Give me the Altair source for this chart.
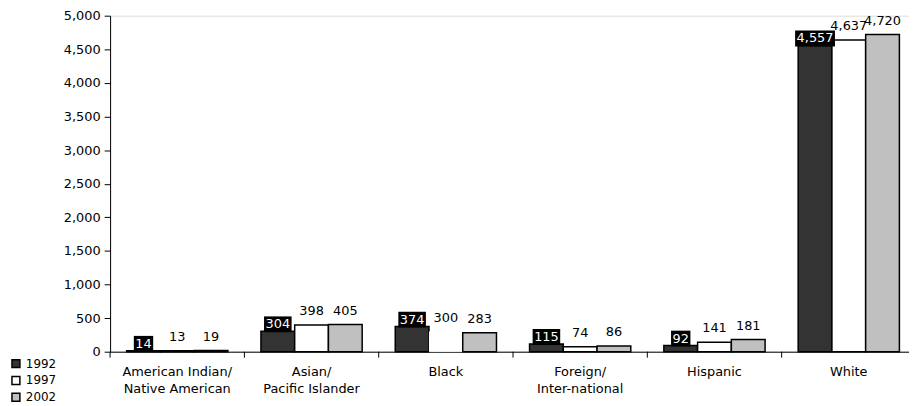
import altair as alt
import pandas as pd

categories = ["American Indian/\nNative American", "Asian/\nPacific Islander", "Black",
              "Foreign/\nInter-national", "Hispanic", "White"]
years = ["1992", "1997", "2002"]
v1992 = [14, 304, 374, 115, 92, 4557]
v1997 = [13, 398, 300, 74, 141, 4637]
v2002 = [19, 405, 283, 86, 181, 4720]
y_ticks = [0, 500, 1000, 1500, 2000, 2500, 3000, 3500, 4000, 4500, 5000]
fills = ["#333333", "#ffffff", "#c0c0c0"]

FONT = "DejaVu Sans"
FS = 13

rows = []
for yr, vals in zip(years, [v1992, v1997, v2002]):
    for c, v in zip(categories, vals):
        lab = f"{v:,}"
        bw = 0.636 * FS * sum(ch.isdigit() for ch in lab) + 0.318 * FS * lab.count(",") + 3
        rows.append({"category": c, "year": yr, "value": v, "label": lab, "bw": bw})
df = pd.DataFrame(rows)
cat_df = pd.DataFrame({"category": categories})

x_enc = alt.X("category:N", sort=categories,
              scale=alt.Scale(range=[0, 813], paddingInner=0, paddingOuter=0),
              axis=alt.Axis(title=None, ticks=False, labelExpr="split(datum.label, '\\n')",
                            labelFont=FONT, labelFontSize=FS, labelColor="black",
                            labelPadding=14, labelLineHeight=17, labelAngle=0,
                            domainColor="black", domainWidth=1))
xo_enc = alt.XOffset("year:N", sort=years, scale=alt.Scale(paddingOuter=0.49, paddingInner=0))
y_enc = alt.Y("value:Q", scale=alt.Scale(domain=[0, 5000], nice=False),
              axis=alt.Axis(title=None, values=y_ticks, format=",d", grid=False,
                            labelFont=FONT, labelFontSize=FS, labelColor="black",
                            tickSize=6, tickColor="black", labelPadding=4,
                            domainColor="black", domainWidth=1))

base = alt.Chart(df).encode(x=x_enc, xOffset=xo_enc, y=y_enc)

bars = base.mark_bar(stroke="black", strokeWidth=1.5).encode(
    color=alt.Color("year:N", scale=alt.Scale(domain=years, range=fills),
                    legend=alt.Legend(title=None, orient="none", legendX=-101, legendY=345,
                                      symbolType="square", symbolSize=64,
                                      symbolStrokeColor="black", symbolStrokeWidth=1.5,
                                      labelFont=FONT, labelFontSize=12, labelColor="black",
                                      labelOffset=4, rowPadding=3, padding=0)),
    strokeOpacity=alt.condition("datum.category == 'Black' && datum.year == '1997'",
                                alt.value(0), alt.value(1)),
)

boxes = base.transform_filter("datum.year == '1992'").mark_tick(
    color="black", thickness=16, orient="horizontal", yOffset=-7, opacity=1
).encode(size=alt.Size("bw:Q", scale=None, legend=None))

text92 = base.transform_filter("datum.year == '1992'").mark_text(
    font=FONT, fontSize=FS, color="white", baseline="middle", dy=-7
).encode(text="label:N")

text_other = base.transform_filter("datum.year != '1992'").mark_text(
    font=FONT, fontSize=FS, color="black", baseline="alphabetic", dy=-10
).encode(text="label:N")

xticks = alt.Chart(cat_df).mark_rule(color="black", strokeWidth=1).encode(
    x=alt.X("category:N", sort=categories, bandPosition=0),
    y=alt.value(339), y2=alt.value(345))

chart = alt.layer(bars, boxes, text92, text_other, xticks).properties(
    width=806, height=339,
    autosize=alt.AutoSizeParams(type="none"),
    padding={"left": 103, "top": 6, "right": 0, "bottom": 51},
).configure_view(stroke=None).configure(background="white")

chart.save("out.html", embed_options={"renderer": "svg", "actions": False})
